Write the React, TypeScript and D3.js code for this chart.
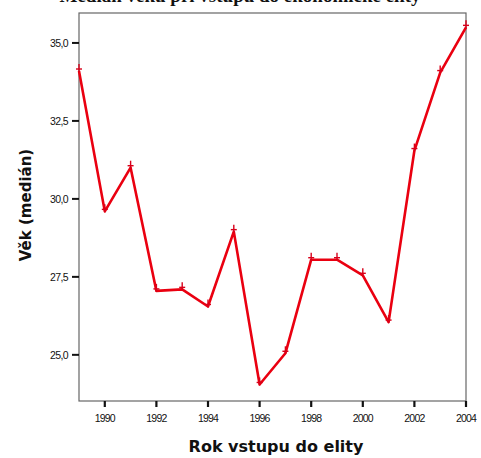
import * as d3 from "d3";

const years = [1989, 1990, 1991, 1992, 1993, 1994, 1995, 1996, 1997, 1998, 1999, 2000, 2001, 2002, 2003, 2004];
const medianAge = [34.1, 29.6, 31.0, 27.05, 27.1, 26.55, 28.95, 24.05, 25.05, 28.05, 28.05, 27.55, 26.05, 31.55, 34.05, 35.5];
const yTicks = [25, 27.5, 30, 32.5, 35];
const xTicks = [1990, 1992, 1994, 1996, 1998, 2000, 2002, 2004];

const W = 481;
const H = 458;
const left = 79;
const right = 466;
const top = 13;
const bottom = 401;

const App = () => {
  const x = d3.scaleLinear().domain([1989, 2004]).range([left, right]);
  const y = d3.scaleLinear().domain([23.52, 35.96]).range([bottom, top]);
  const points = years.map((yr, i) => [x(yr), y(medianAge[i])] as [number, number]);
  const line = d3.line()(points) ?? "";
  const fmt = (v: number) => v.toFixed(1).replace(".", ",");
  const tickFont = "'Liberation Sans', Arial, sans-serif";
  const labelFont = "'DejaVu Sans', Verdana, sans-serif";

  return (
    <div style={{ position: "absolute", left: 0, top: 0 }}>
      <svg width={W} height={H} style={{ display: "block", background: "#fff" }}>
        {/* title, cut off at the top as in the source */}
        <text x={240} y={2} textAnchor="middle" fontFamily="'Liberation Serif', serif" fontWeight="bold" fontSize={19} fill="#111">
          Medián věku při vstupu do ekonomické elity
        </text>

        {/* frame */}
        <rect x={left} y={top} width={right - left} height={bottom - top} fill="none" stroke="#666" strokeWidth={1.2} />

        {/* y axis */}
        {yTicks.map((t) => (
          <g key={t}>
            <line x1={left - 7} x2={left} y1={y(t)} y2={y(t)} stroke="#111" strokeWidth={2} />
            <text x={left - 11} y={y(t) + 4} textAnchor="end" fontFamily={tickFont} fontSize={10.5} letterSpacing={-0.6} fill="#111">
              {fmt(t)}
            </text>
          </g>
        ))}

        {/* x axis */}
        {xTicks.map((t) => (
          <g key={t}>
            <line x1={x(t)} x2={x(t)} y1={bottom} y2={bottom + 6} stroke="#111" strokeWidth={2.2} />
            <text x={x(t)} y={bottom + 21} textAnchor="middle" fontFamily={tickFont} fontSize={10.5} letterSpacing={-0.8} fill="#111">
              {t}
            </text>
          </g>
        ))}

        {/* axis titles */}
        <text
          transform={`translate(31, ${(top + bottom) / 2 - 2}) rotate(-90)`}
          textAnchor="middle"
          fontFamily={labelFont}
          fontWeight="bold"
          fontSize={15}
          fill="#111"
        >
          Věk (medián)
        </text>
        <text x={276} y={452} textAnchor="middle" fontFamily={labelFont} fontWeight="bold" fontSize={16} fill="#111">
          Rok vstupu do elity
        </text>

        {/* line */}
        <path d={line} fill="none" stroke="#ea0010" strokeWidth={2.6} strokeLinejoin="round" />
        {points.map(([px, py], i) => (
          <g key={i} stroke="#d8001a" strokeWidth={1.4}>
            <line x1={px} x2={px} y1={py - 7} y2={py + 1} />
            <line x1={px - 3} x2={px + 3} y1={py - 2} y2={py - 2} />
          </g>
        ))}
      </svg>
    </div>
  );
};

export default App;
